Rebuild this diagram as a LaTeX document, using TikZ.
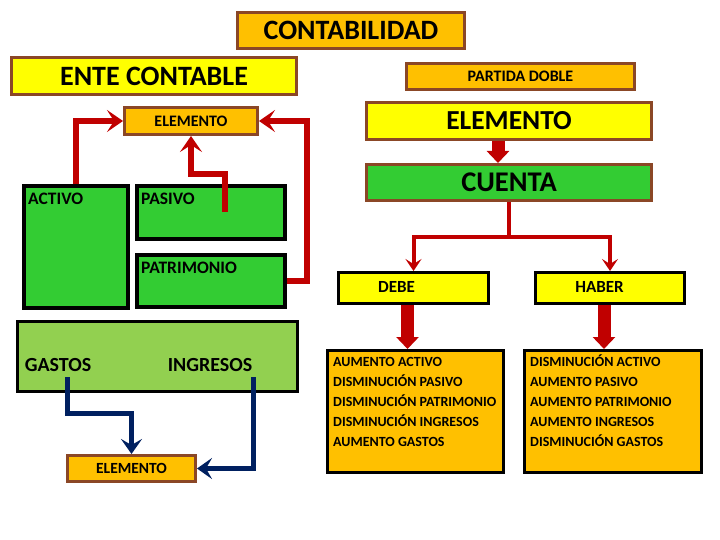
\documentclass[tikz,border=0pt]{standalone}
\usepackage{fontspec}
\setmainfont{Carlito}
\usepackage{xcolor}
\usetikzlibrary{arrows.meta}

\definecolor{gold}{HTML}{FFC000}
\definecolor{lemon}{HTML}{FFFF00}
\definecolor{leaf}{HTML}{33CC33}
\definecolor{lime}{HTML}{92D050}
\definecolor{rust}{HTML}{8B4726}
\definecolor{darkred}{HTML}{C00000}
\definecolor{navy}{HTML}{002060}

\begin{document}
\begin{tikzpicture}[x=1pt, y=-1pt,
    brownbox/.style={rectangle, draw=rust, line width=3pt, inner sep=0pt},
    blackbox/.style={rectangle, draw=black, line width=3pt, inner sep=0pt},
    greenbox/.style={rectangle, draw=black, line width=4pt, fill=leaf, inner sep=0pt},
    boxtitle/.style={inner sep=0pt, anchor=north west, font=\bfseries\fontsize{17.5}{20}\selectfont},
    listitem/.style={inner sep=0pt, anchor=base west, font=\bfseries\fontsize{14}{16}\selectfont},
    redlink/.style={draw=darkred, line width=6pt, -{Stealth[length=16pt, width=22pt, inset=7pt]}},
    splitlink/.style={draw=darkred, line width=4pt, -{Stealth[length=12pt, width=16pt, inset=5pt]}},
    bluelink/.style={draw=navy, line width=5pt, -{Stealth[length=15pt, width=21pt, inset=6pt]}},
    fatarrow/.style={draw=darkred, line width=13pt, -{Triangle[length=12pt, width=22pt]}}
]
\useasboundingbox (0,0) rectangle (720,540);

% Title
\node[brownbox, fill=gold, minimum width=227, minimum height=36, font=\bfseries\fontsize{28}{30}\selectfont] (conta) at (351,30.5) {CONTABILIDAD};

% Left side: ente contable
\node[brownbox, fill=lemon, minimum width=285, minimum height=37, font=\bfseries\fontsize{28}{30}\selectfont] (ente) at (154,76) {ENTE CONTABLE};
\node[brownbox, fill=gold, minimum width=133, minimum height=27, font=\bfseries\fontsize{16}{18}\selectfont] (elemA) at (191,121) {ELEMENTO};

\node[greenbox, minimum width=104, minimum height=122] (activo) at (76,247) {};
\node[boxtitle] (activoTxt) at ([shift={(6,9)}]activo.north west) {ACTIVO};
\node[greenbox, minimum width=148, minimum height=53] (pasivo) at (211,212.5) {};
\node[boxtitle] (pasivoTxt) at ([shift={(6,9)}]pasivo.north west) {PASIVO};
\node[greenbox, minimum width=148, minimum height=52] (patri) at (211,281) {};
\node[boxtitle] (patriTxt) at ([shift={(6,9)}]patri.north west) {PATRIMONIO};

% Resultados
\node[blackbox, fill=lime, minimum width=280, minimum height=70] (result) at (157.5,356.5) {};
\node[font=\bfseries\fontsize{20}{24}\selectfont] (gastos) at (58,365) {GASTOS};
\node[font=\bfseries\fontsize{20}{24}\selectfont] (ingresos) at (210,365) {INGRESOS};
\coordinate (gastosPt) at (67,377);
\coordinate (ingresosPt) at (253,377);
\node[brownbox, fill=gold, minimum width=128, minimum height=26, font=\bfseries\fontsize{15.5}{18}\selectfont] (elemB) at (131.5,468.5) {ELEMENTO};

% Right side: partida doble
\node[brownbox, fill=gold, minimum width=228, minimum height=26, font=\bfseries\fontsize{16}{18}\selectfont] (partida) at (520.5,76.5) {PARTIDA DOBLE};
\node[brownbox, fill=lemon, minimum width=285, minimum height=37, font=\bfseries\fontsize{27.5}{30}\selectfont] (elemC) at (509,121) {ELEMENTO};
\node[brownbox, fill=leaf, minimum width=285, minimum height=36, font=\bfseries\fontsize{28.5}{30}\selectfont] (cuenta) at (509,182.5) {CUENTA};

\node[blackbox, fill=lemon, minimum width=150, minimum height=31] (debe) at (413.5,288) {};
\node[font=\bfseries\fontsize{17}{20}\selectfont] (debeTxt) at (396.5,287) {DEBE};
\node[blackbox, fill=lemon, minimum width=149, minimum height=31] (haber) at (610,288) {};
\node[font=\bfseries\fontsize{17}{20}\selectfont] (haberTxt) at (599.5,287) {HABER};

\node[blackbox, fill=gold, minimum width=176, minimum height=122] (listD) at (415.5,411.5) {};
\node[blackbox, fill=gold, minimum width=177, minimum height=122] (listH) at (613,411.5) {};
\foreach \t [count=\i] in {AUMENTO ACTIVO, DISMINUCIÓN PASIVO, DISMINUCIÓN PATRIMONIO, DISMINUCIÓN INGRESOS, AUMENTO GASTOS}
    \node[listitem] (d\i) at (333,346.7+20*\i) {\t};
\foreach \t [count=\i] in {DISMINUCIÓN ACTIVO, AUMENTO PASIVO, AUMENTO PATRIMONIO, AUMENTO INGRESOS, DISMINUCIÓN GASTOS}
    \node[listitem] (h\i) at (530,346.7+20*\i) {\t};

% Connectors to ELEMENTO
\draw[redlink] (activo.north) |- (elemA.west);
\coordinate (pasivoPt) at (225,212);
\draw[redlink] (pasivoPt) -- ++(0,-38) -| (elemA.south);
\draw[redlink] (patri.east) -- ++(19.5,0) |- (elemA.east);

\draw[bluelink] (gastosPt) -- ++(0,36) -| (elemB.north);
\draw[bluelink] (ingresosPt) |- (elemB.east);

% Cuenta, debe, haber
\draw[fatarrow] ([xshift=-11]elemC.south) -- ([xshift=-11]cuenta.north);
\draw[splitlink] (cuenta.south) -- ++(0,35) coordinate (split) -| (debe.north);
\draw[splitlink] (split) -| (haber.north);
\draw[fatarrow] ([xshift=-6]debe.south) -- ([xshift=-6]debe.south |- listD.north);
\draw[fatarrow] ([xshift=-6]haber.south) -- ([xshift=-6]haber.south |- listH.north);

\end{tikzpicture}
\end{document}
